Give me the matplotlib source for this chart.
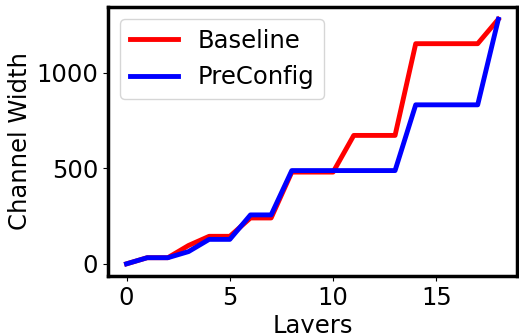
import numpy as np
import matplotlib
matplotlib.use("Agg")
import matplotlib.pyplot as plt

# Channel width per layer
layers = np.arange(19)
baseline = [0, 32, 32, 96, 144, 144, 240, 240, 480, 480, 480,
            672, 672, 672, 1152, 1152, 1152, 1152, 1280]
preconfig = [0, 32, 32, 64, 128, 128, 256, 256, 488, 488, 488,
             488, 488, 488, 832, 832, 832, 832, 1280]

fig, ax = plt.subplots(figsize=(5.19, 3.33), dpi=100)
fig.subplots_adjust(left=0.208, right=0.996, top=0.979, bottom=0.171)

ax.plot(layers, baseline, color="red", linewidth=3.5, label="Baseline")
ax.plot(layers, preconfig, color="blue", linewidth=3.5, label="PreConfig")

ax.set_xlabel("Layers", fontsize=17.5, labelpad=3)
ax.set_ylabel("Channel Width", fontsize=17.5, labelpad=3)
ax.tick_params(labelsize=17.5)
ax.set_xticks([0, 5, 10, 15])
ax.set_yticks([0, 500, 1000])
for s in ax.spines.values():
    s.set_linewidth(2.5)

ax.legend(loc="upper left", fontsize=17.5)
fig.savefig("out.png", dpi=100)
